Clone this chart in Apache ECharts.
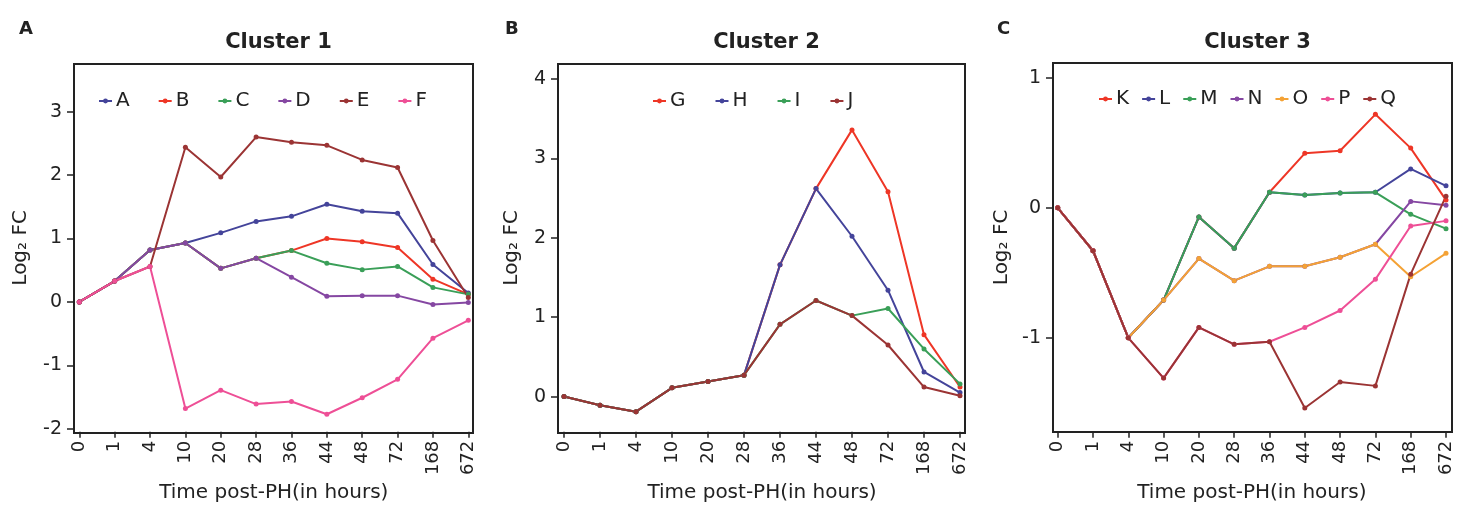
<!DOCTYPE html>
<html>
<head>
<meta charset="utf-8">
<script src="https://cdn.jsdelivr.net/npm/echarts@6/dist/echarts.min.js"></script>
<style>
html, body { margin: 0; padding: 0; background: #fff; }
#main { width: 1457px; height: 508px; }
</style>
</head>
<body>
<div id="main"></div>
<script>
// time points (x categories)
var hours = ['0', '1', '4', '10', '20', '28', '36', '44', '48', '72', '168', '672'];

// Cluster 1
var c1Names = ['A', 'B', 'C', 'D', 'E', 'F'];
var c1_A = [0, 0.33, 0.82, 0.93, 1.09, 1.27, 1.35, 1.54, 1.43, 1.40, 0.59, 0.14];
var c1_B = [0, 0.33, 0.82, 0.93, 0.53, 0.69, 0.81, 1.00, 0.95, 0.86, 0.36, 0.12];
var c1_C = [0, 0.33, 0.82, 0.93, 0.53, 0.69, 0.81, 0.61, 0.51, 0.56, 0.23, 0.12];
var c1_D = [0, 0.33, 0.82, 0.93, 0.53, 0.69, 0.39, 0.09, 0.10, 0.10, -0.04, -0.01];
var c1_E = [0, 0.33, 0.56, 2.44, 1.97, 2.60, 2.52, 2.47, 2.24, 2.12, 0.97, 0.07];
var c1_F = [0, 0.33, 0.56, -1.68, -1.39, -1.61, -1.57, -1.77, -1.51, -1.22, -0.57, -0.29];
var c1Ticks = [-2, -1, 0, 1, 2, 3];

// Cluster 2
var c2Names = ['G', 'H', 'I', 'J'];
var c2_G = [0, -0.11, -0.19, 0.11, 0.19, 0.27, 1.66, 2.62, 3.36, 2.58, 0.78, 0.12];
var c2_H = [0, -0.11, -0.19, 0.11, 0.19, 0.27, 1.66, 2.62, 2.02, 1.34, 0.31, 0.05];
var c2_I = [0, -0.11, -0.19, 0.11, 0.19, 0.27, 0.91, 1.21, 1.02, 1.11, 0.60, 0.16];
var c2_J = [0, -0.11, -0.19, 0.11, 0.19, 0.27, 0.91, 1.21, 1.02, 0.65, 0.12, 0.01];
var c2Ticks = [0, 1, 2, 3, 4];

// Cluster 3
var c3Names = ['K', 'L', 'M', 'N', 'O', 'P', 'Q'];
var c3_K = [0, -0.33, -1.00, -0.71, -0.07, -0.31, 0.12, 0.42, 0.44, 0.72, 0.46, 0.06];
var c3_L = [0, -0.33, -1.00, -0.71, -0.07, -0.31, 0.12, 0.10, 0.115, 0.12, 0.30, 0.17];
var c3_M = [0, -0.33, -1.00, -0.71, -0.07, -0.31, 0.12, 0.10, 0.115, 0.12, -0.05, -0.16];
var c3_N = [0, -0.33, -1.00, -0.71, -0.39, -0.56, -0.45, -0.45, -0.38, -0.28, 0.05, 0.02];
var c3_O = [0, -0.33, -1.00, -0.71, -0.39, -0.56, -0.45, -0.45, -0.38, -0.28, -0.53, -0.35];
var c3_P = [0, -0.33, -1.00, -1.31, -0.92, -1.05, -1.03, -0.92, -0.79, -0.55, -0.14, -0.10];
var c3_Q = [0, -0.33, -1.00, -1.31, -0.92, -1.05, -1.03, -1.54, -1.34, -1.37, -0.51, 0.09];
var c3Ticks = [-1, 0, 1];

// colours
var BLUE = '#44449a', RED = '#ee3626', GREEN = '#3a9f58', PURPLE = '#8547a2',
    BROWN = '#9b3434', PINK = '#ee4f96', ORANGE = '#f4a235';
var INK = '#222';
var FONT = 'DejaVu Sans';

var panels = [
  {
    title: 'Cluster 1', letter: 'A', letterX: 14,
    frame: {left: 74, top: 64, width: 399, height: 369},
    data: {left: 79.3, width: 389},
    yMin: -2.046, yMax: 3.752, ticks: c1Ticks, nameGap: 43,
    legendLeft: 93, legendTop: 86, legendGap: 28,
    names: c1Names, values: [c1_A, c1_B, c1_C, c1_D, c1_E, c1_F],
    colors: [BLUE, RED, GREEN, PURPLE, BROWN, PINK]
  },
  {
    title: 'Cluster 2', letter: 'B', letterX: 500,
    frame: {left: 558, top: 64, width: 407, height: 369},
    data: {left: 564, width: 396},
    yMin: -0.443, yMax: 4.19, ticks: c2Ticks, nameGap: 36,
    legendLeft: 647, legendTop: 86, legendGap: 29,
    names: c2Names, values: [c2_G, c2_H, c2_I, c2_J],
    colors: [RED, BLUE, GREEN, BROWN]
  },
  {
    title: 'Cluster 3', letter: 'C', letterX: 992,
    frame: {left: 1053, top: 63, width: 399, height: 369},
    data: {left: 1057.7, width: 388.3},
    yMin: -1.723, yMax: 1.115, ticks: c3Ticks, nameGap: 41,
    legendLeft: 1093, legendTop: 84, legendGap: 12,
    names: c3Names, values: [c3_K, c3_L, c3_M, c3_N, c3_O, c3_P, c3_Q],
    colors: [RED, BLUE, GREEN, PURPLE, ORANGE, PINK, BROWN]
  }
];

var grids = [], xAxes = [], yAxes = [], series = [], legends = [], titles = [];

panels.forEach(function (p, i) {
  var fi = i * 2, di = i * 2 + 1;
  // frame box
  grids.push({
    left: p.frame.left, top: p.frame.top, width: p.frame.width, height: p.frame.height,
    show: true, borderColor: INK, borderWidth: 2, backgroundColor: 'transparent'
  });
  xAxes.push({gridIndex: fi, type: 'value', show: false});
  yAxes.push({gridIndex: fi, type: 'value', show: false});

  // data area
  grids.push({
    left: p.data.left, top: p.frame.top, width: p.data.width, height: p.frame.height
  });
  xAxes.push({
    gridIndex: di, type: 'category', data: hours, boundaryGap: false,
    axisLine: {show: false, onZero: false},
    axisTick: {show: true, length: 6, interval: 0, lineStyle: {color: INK, width: 1.5}},
    axisLabel: {interval: 0, rotate: 90, margin: 9, fontSize: 18, color: INK, fontFamily: FONT},
    splitLine: {show: false},
    name: 'Time post-PH(in hours)', nameLocation: 'middle', nameGap: 49,
    nameTextStyle: {fontSize: 20, color: INK, fontFamily: FONT}
  });
  yAxes.push({
    gridIndex: di, type: 'value', min: p.yMin, max: p.yMax,
    offset: p.data.left - p.frame.left,
    axisLine: {show: false},
    axisTick: {show: true, length: 7, customValues: p.ticks, lineStyle: {color: INK, width: 1.5}},
    axisLabel: {customValues: p.ticks, margin: 12, fontSize: 19, color: INK, fontFamily: FONT},
    splitLine: {show: false},
    name: 'Log\u2082 FC', nameLocation: 'middle', nameGap: p.nameGap, nameRotate: 90,
    nameTextStyle: {fontSize: 20, color: INK, fontFamily: FONT}
  });

  p.names.forEach(function (n, k) {
    series.push({
      name: n, type: 'line', xAxisIndex: di, yAxisIndex: di,
      data: p.values[k], color: p.colors[k],
      symbol: 'circle', symbolSize: 5, showSymbol: true,
      lineStyle: {width: 2}, emphasis: {disabled: true}
    });
  });

  legends.push({
    data: p.names, left: p.legendLeft, top: p.legendTop, orient: 'horizontal',
    itemWidth: 13, itemHeight: 6, itemGap: p.legendGap,
    textStyle: {fontSize: 20, color: INK, fontFamily: FONT, padding: [0, 0, 0, -1]},
    selectedMode: false
  });

  titles.push({
    text: p.title, left: p.frame.left + p.frame.width / 2, textAlign: 'center', top: 27,
    textStyle: {fontSize: 21, fontWeight: 'bold', color: INK, fontFamily: FONT}
  });
  titles.push({
    text: p.letter, left: p.letterX, top: 15,
    textStyle: {fontSize: 18, fontWeight: 'bold', color: INK, fontFamily: FONT}
  });
});

var chart = echarts.init(document.getElementById('main'), null, {renderer: 'canvas'});
chart.setOption({
  animation: false,
  backgroundColor: '#fff',
  title: titles,
  legend: legends,
  tooltip: {show: false},
  grid: grids,
  xAxis: xAxes,
  yAxis: yAxes,
  series: series
});
</script>
</body>
</html>
